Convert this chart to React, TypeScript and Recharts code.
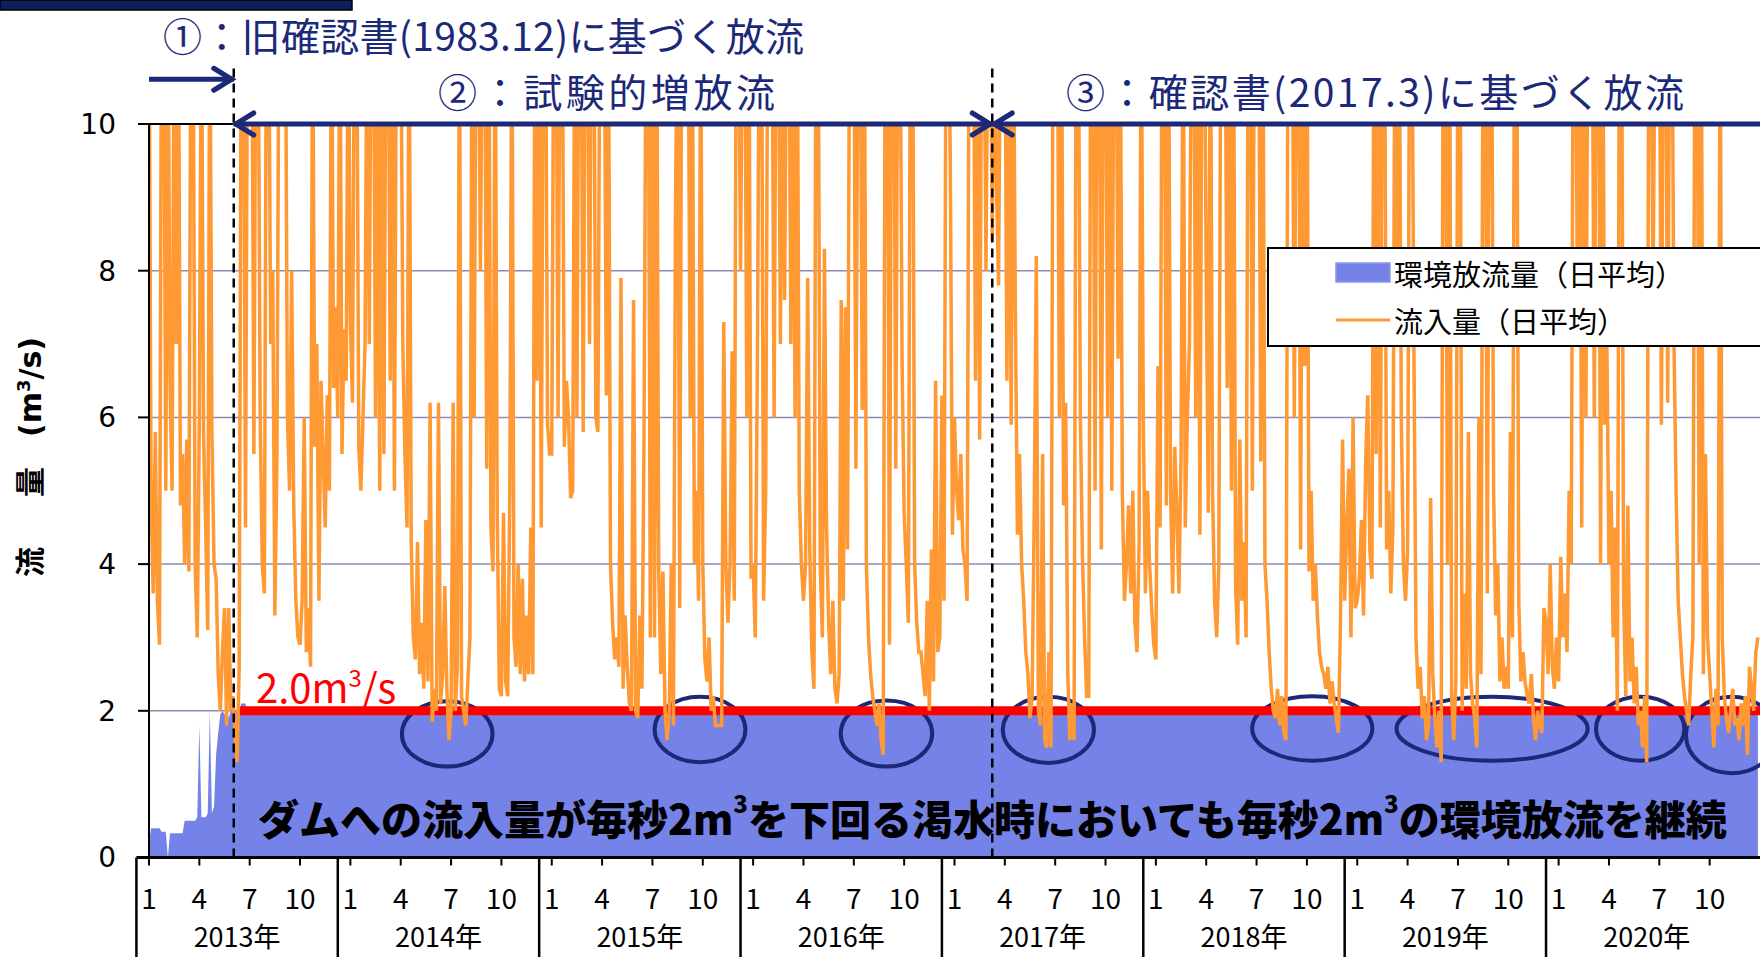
import React from 'react';
import {
  ComposedChart,
  Line,
  Area,
  XAxis,
  YAxis,
  CartesianGrid,
  ReferenceLine,
  ReferenceArea,
} from 'recharts';

// ---------- data (8 readings per month, values above 10 run off the top) ----------
const inflow2013 = [
  12, 4.9, 3.6, 5.8, 3.5, 2.9, 12, 12,
  5.0, 12, 6.5, 5.0, 12, 7.0, 12, 4.8,
  5.5, 4.0, 5.7, 3.9, 12, 12, 4.0, 3.0,
  6.0, 12, 5.8, 4.5, 3.1, 12, 5.8, 4.0,
  3.8, 2.5, 2.0, 2.8, 3.4, 1.8, 3.4, 2.0,
  2.2, 1.7, 1.3, 2.6, 12, 12, 4.5, 12,
  12, 12, 5.5, 12, 12, 6.0, 4.0, 3.6,
  12, 12, 7.0, 8.0, 3.3, 5.5, 12, 12,
  12, 12, 6.0, 5.0, 8.0, 4.8, 3.5, 3.0,
  2.9, 3.5, 6.0, 2.8, 3.4, 2.6, 12, 5.6,
  7.0, 3.5, 6.5, 5.5, 4.5, 6.3, 5.0, 12,
  6.4, 7.5, 6.0, 12, 5.5, 7.2, 6.5, 12,
];
const inflow2014 = [
  7.3, 6.2, 12, 12, 5.6, 5.0, 6.0, 7.0,
  12, 7.0, 12, 12, 6.0, 12, 5.0, 12,
  5.5, 12, 12, 6.5, 12, 5.0, 12, 12,
  12, 7.0, 5.5, 4.5, 12, 4.3, 3.0, 2.7,
  4.3, 2.5, 3.2, 2.3, 4.6, 2.4, 6.2, 1.85,
  2.3, 2.0, 6.2, 2.1, 2.5, 3.7, 2.3, 1.6,
  2.0, 6.2, 2.0, 2.6, 12, 2.2, 2.0, 1.8,
  2.4, 3.0, 12, 6.0, 12, 12, 8.0, 12,
  12, 5.3, 12, 4.5, 3.9, 12, 4.7, 2.3,
  2.2, 4.7, 2.4, 2.2, 5.0, 12, 3.0, 2.6,
  4.0, 2.5, 3.8, 2.4, 3.3, 2.5, 4.5, 2.5,
  12, 6.5, 12, 4.5, 12, 12, 5.9, 5.5,
];
const inflow2015 = [
  5.5, 12, 12, 6.0, 12, 12, 5.6, 6.5,
  6.0, 4.9, 5.0, 12, 6.0, 12, 12, 5.8,
  12, 12, 7.0, 12, 12, 6.0, 5.8, 12,
  12, 12, 6.3, 12, 4.0, 3.2, 2.7, 3.0,
  2.6, 7.9, 2.3, 3.3, 2.6, 2.1, 2.0, 7.6,
  2.0, 1.9, 3.3, 2.3, 5.8, 12, 12, 3.0,
  12, 3.0, 12, 3.9, 2.5, 3.9, 2.0, 1.6,
  2.0, 4.0, 1.8, 8.9, 12, 3.4, 12, 12,
  12, 12, 6.0, 12, 4.0, 5.0, 3.5, 12,
  4.0, 2.7, 2.4, 3.0, 2.0, 2.2, 1.8, 1.8,
  1.8, 1.8, 7.3, 4.0, 3.2, 4.0, 6.9, 3.5,
  12, 12, 8.0, 12, 12, 6.0, 12, 3.8,
];
const inflow2016 = [
  4.0, 3.0, 6.6, 12, 12, 3.5, 5.0, 12,
  12, 12, 6.0, 12, 12, 7.0, 12, 7.6,
  12, 12, 7.0, 12, 6.0, 12, 5.0, 4.0,
  3.5, 4.0, 7.9, 4.2, 2.8, 2.3, 12, 12,
  4.0, 3.0, 8.3, 4.5, 3.2, 2.5, 3.5, 2.3,
  2.1, 2.5, 7.6, 3.5, 7.5, 4.2, 12, 12,
  12, 5.3, 12, 12, 6.1, 12, 4.0, 3.0,
  2.5, 2.2, 2.0, 1.8, 2.1, 1.6, 1.4, 12,
  12, 2.9, 12, 12, 5.3, 12, 12, 6.8,
  4.7, 4.0, 3.2, 12, 12, 4.0, 3.2, 2.8,
  2.8, 2.5, 2.2, 3.5, 2.0, 4.2, 2.4, 6.5,
  2.8, 3.0, 6.3, 3.5, 12, 12, 9.5, 4.4,
];
const inflow2017 = [
  6.0, 5.0, 4.6, 5.5, 4.2, 4.0, 3.5, 12,
  12, 12, 6.5, 12, 5.7, 12, 12, 8.0,
  12, 12, 8.4, 12, 9.2, 7.8, 12, 12,
  12, 6.5, 12, 5.9, 12, 7.5, 4.4, 5.5,
  4.0, 3.5, 2.8, 2.5, 1.9, 2.2, 4.7, 8.2,
  2.0, 1.8, 5.5, 1.6, 1.5, 2.8, 1.5, 12,
  12, 12, 6.0, 12, 4.8, 6.2, 2.5, 1.6,
  2.1, 1.6, 12, 12, 6.0, 4.1, 3.0, 2.2,
  2.2, 12, 12, 5.0, 12, 12, 4.2, 12,
  12, 6.0, 12, 5.0, 12, 12, 6.8, 12,
  5.0, 3.5, 4.0, 4.8, 3.6, 5.0, 3.2, 2.8,
  4.3, 12, 6.0, 3.6, 5.0, 4.0, 3.4, 2.9,
];
const inflow2018 = [
  2.7, 6.7, 4.5, 12, 12, 4.8, 12, 5.0,
  3.6, 5.6, 4.7, 3.6, 5.5, 12, 4.5, 6.0,
  7.0, 12, 12, 6.0, 12, 4.4, 12, 12,
  8.0, 4.7, 12, 5.0, 3.5, 3.0, 4.0, 12,
  12, 12, 6.4, 12, 5.0, 12, 3.7, 2.9,
  5.7, 3.5, 4.3, 3.0, 12, 12, 5.0, 12,
  12, 12, 5.4, 12, 4.0, 3.5, 2.8, 2.3,
  2.0, 1.9, 2.3, 1.8, 2.2, 1.7, 1.6, 12,
  12, 12, 6.0, 12, 12, 4.2, 12, 6.7,
  12, 3.9, 5.0, 3.5, 4.0, 3.3, 2.8, 2.6,
  2.5, 2.3, 2.6, 2.1, 2.4, 2.1, 1.9, 1.7,
  3.2, 5.7, 3.5, 4.5, 5.3, 3.0, 6.0, 3.4,
];
const inflow2019 = [
  3.5, 3.8, 4.6, 3.3, 5.4, 6.3, 4.2, 3.8,
  12, 5.5, 12, 4.5, 12, 12, 4.2, 5.0,
  3.6, 4.5, 12, 8.0, 12, 6.0, 4.0, 3.5,
  4.2, 12, 12, 7.0, 3.0, 2.3, 2.6, 1.9,
  2.2, 1.6, 1.8, 4.9, 2.5, 1.9, 1.5, 2.0,
  1.3, 12, 12, 4.0, 12, 2.2, 1.6, 2.4,
  12, 12, 2.0, 3.6, 2.3, 5.8, 2.5, 2.1,
  1.9, 1.5, 6.0, 2.5, 12, 12, 3.6, 12,
  12, 5.0, 3.3, 4.0, 2.4, 3.0, 2.3, 2.6,
  2.3, 5.8, 3.0, 12, 12, 3.5, 2.4, 2.8,
  2.4, 2.2, 2.1, 2.5, 1.9, 1.6, 2.0, 1.8,
  1.7, 3.4, 3.2, 2.5, 4.0, 2.6, 2.3, 3.0,
];
const inflow2020 = [
  2.4, 4.1, 3.0, 3.6, 2.8, 5.0, 4.0, 12,
  12, 7.4, 12, 4.5, 12, 6.0, 12, 12,
  12, 6.0, 12, 12, 4.0, 12, 5.9, 7.0,
  4.0, 5.0, 3.0, 4.5, 2.0, 12, 12, 3.5,
  2.2, 4.8, 2.4, 3.0, 2.1, 2.6, 1.8, 2.0,
  1.5, 2.2, 1.3, 12, 12, 7.5, 12, 12,
  12, 5.9, 12, 12, 6.2, 12, 12, 7.0,
  5.0, 3.5, 3.0, 2.5, 2.2, 2.0, 1.8, 2.5,
  3.0, 12, 12, 4.0, 12, 2.5, 5.5, 3.0,
  2.5, 2.0, 1.5, 2.3, 1.8, 12, 3.0, 2.2,
  1.9, 1.7, 2.0, 2.3, 1.8, 1.9, 1.6, 2.1,
  1.8, 2.2, 1.4, 2.6, 2.3, 2.0, 2.8, 3.0,
];
// environmental release, first half of 2013 (8 readings per month), then steady level
const envEarly2013 = [
  0.2, 0.4, 0.4, 0.4, 0.4, 0.4, 0.35, 0.35,
  0.35, 0.0, 0.33, 0.33, 0.33, 0.33, 0.33, 0.33,
  0.33, 0.5, 0.5, 0.5, 0.5, 0.5, 0.5, 0.55,
  1.8, 0.55, 0.55, 0.55, 0.6, 2.0, 0.6, 0.7,
  1.4, 1.7, 1.95, 2.0, 1.95, 2.0, 1.9, 2.0,
  2.0, 2.0, 2.0, 2.0, 2.1, 2.1, 2.1, 1.95,
];
const envLevel = 1.95;
const pointsPerMonth = 8;

const years = [2013, 2014, 2015, 2016, 2017, 2018, 2019, 2020];
const monthTicks = [0, 3, 6, 9, 12, 15, 18, 21, 24, 27, 30, 33, 36, 39, 42, 45, 48, 51, 54, 57, 60, 63, 66, 69, 72, 75, 78, 81, 84, 87, 90, 93];
const yTicks = [0, 2, 4, 6, 8, 10];
const limitValue = 2;
const limitStart = 5.3; // months from Jan 2013
const boundary1 = 5.05; // 2013.6
const boundary2 = 50.25; // 2017.3

// circled dry periods (month range, value range)
const ellipseX1 = [15.07, 30.13, 41.22, 50.88, 65.74, 74.34, 86.23, 91.59];
const ellipseX2 = [20.47, 35.54, 46.67, 56.31, 72.9, 85.73, 91.49, 97.02];
const ellipseYTop = [2.13, 2.19, 2.14, 2.19, 2.2, 2.19, 2.19, 2.19];
const ellipseYBottom = [1.24, 1.3, 1.24, 1.29, 1.32, 1.32, 1.32, 1.15];

const inflowAll = [inflow2013, inflow2014, inflow2015, inflow2016, inflow2017, inflow2018, inflow2019, inflow2020].flat();
const data = inflowAll.map((v, i) => ({
  t: i / pointsPerMonth,
  inflow: v,
  env: i < envEarly2013.length ? envEarly2013[i] : envLevel,
}));

// ---------- styling ----------
const NAVY = '#1C2878';
const ORANGE = '#FF9933';
const BLUE = '#7583E8';
const JP = "'Noto Sans CJK JP', 'Noto Sans', sans-serif";

const MonthTick = (props: any) => {
  const { x, y, payload } = props;
  const label = (Math.round(payload.value) % 12) + 1;
  return (
    <text x={x} y={y + 31} textAnchor="middle" dominantBaseline="central" fontSize={28} fontFamily={JP} fill="#000">
      {label}
    </text>
  );
};

const yearShape = (label: string) => (p: any) => (
  <g>
    <line x1={p.x} y1={p.y} x2={p.x} y2={p.y + p.height} stroke="#000" strokeWidth={2.5} />
    <line x1={p.x} y1={p.y} x2={p.x + p.width} y2={p.y} stroke="#000" strokeWidth={3} />
    <text x={p.x + p.width / 2} y={p.y + 78} textAnchor="middle" dominantBaseline="central" fontSize={27} fontFamily={JP} fill="#000">
      {label}
    </text>
  </g>
);

const ellipseShape = (p: any) => (
  <ellipse cx={p.x + p.width / 2} cy={p.y + p.height / 2} rx={p.width / 2} ry={p.height / 2} fill="none" stroke={NAVY} strokeWidth={4} />
);

const arrowShape = (start: boolean, end: boolean) => (p: any) => {
  const { x1, y1, x2, y2 } = p;
  const d = 20;
  const h = 11;
  return (
    <g>
      <line x1={x1} y1={y1} x2={x2} y2={y2} stroke={NAVY} strokeWidth={5} />
      {start && (
        <polyline points={`${x1 + d},${y1 - h} ${x1 + 2},${y1} ${x1 + d},${y1 + h}`} fill="none" stroke={NAVY} strokeWidth={5} strokeLinecap="round" />
      )}
      {end && (
        <polyline points={`${x2 - d},${y2 - h} ${x2 - 2},${y2} ${x2 - d},${y2 + h}`} fill="none" stroke={NAVY} strokeWidth={5} strokeLinecap="round" />
      )}
    </g>
  );
};

export default function App() {
  return (
    <div style={{ position: 'absolute', left: 0, top: 0, width: 1760, height: 957, background: '#fff', overflow: 'hidden' }}>
      <ComposedChart width={1760} height={957} data={data} margin={{ top: 124, right: 0, bottom: 0, left: 0 }}>
        <CartesianGrid vertical={false} stroke="#8C8CB4" strokeWidth={1.5} />
        <XAxis
          dataKey="t"
          type="number"
          domain={[0, 96]}
          allowDataOverflow
          ticks={monthTicks}
          interval={0}
          height={99.5}
          tickSize={8}
          tickMargin={0}
          tick={<MonthTick />}
          tickLine={{ stroke: '#000', strokeWidth: 2 }}
          axisLine={{ stroke: '#000', strokeWidth: 3 }}
        />
        <YAxis
          type="number"
          domain={[0, 10]}
          allowDataOverflow
          ticks={yTicks}
          interval={0}
          width={149}
          tickSize={11}
          tickMargin={22}
          tick={{ fontSize: 28, fill: '#000', fontFamily: "'DejaVu Sans', sans-serif" }}
          tickLine={{ stroke: '#000', strokeWidth: 2 }}
          axisLine={{ stroke: '#000', strokeWidth: 2 }}
        />
        <Area dataKey="env" type="linear" fill={BLUE} fillOpacity={1} stroke="none" isAnimationActive={false} />
        <ReferenceLine segment={[{ x: limitStart, y: limitValue }, { x: 96, y: limitValue }]} stroke="#FF0000" strokeWidth={9} />
        <Line dataKey="inflow" type="linear" stroke={ORANGE} strokeWidth={3.5} dot={false} activeDot={false} isAnimationActive={false} />
        <ReferenceLine segment={[{ x: 0, y: 10 }, { x: boundary1, y: 10 }]} stroke="#000" strokeWidth={2} ifOverflow="visible" />
        <ReferenceLine segment={[{ x: boundary1, y: 0 }, { x: boundary1, y: 10.79 }]} stroke="#000" strokeWidth={2.5} strokeDasharray="9 6" ifOverflow="visible" />
        <ReferenceLine segment={[{ x: boundary2, y: 0 }, { x: boundary2, y: 10.79 }]} stroke="#000" strokeWidth={2.5} strokeDasharray="9 6" ifOverflow="visible" />
        <ReferenceLine segment={[{ x: 0, y: 10.61 }, { x: boundary1, y: 10.61 }]} ifOverflow="visible" shape={arrowShape(false, true)} />
        <ReferenceLine segment={[{ x: boundary1, y: 10 }, { x: boundary2, y: 10 }]} ifOverflow="visible" shape={arrowShape(true, true)} />
        <ReferenceLine segment={[{ x: boundary2, y: 10 }, { x: 97, y: 10 }]} ifOverflow="visible" shape={arrowShape(true, false)} />
        {ellipseX1.map((x1, i) => (
          <ReferenceArea key={`e${i}`} x1={x1} x2={ellipseX2[i]} y1={ellipseYBottom[i]} y2={ellipseYTop[i]} ifOverflow="visible" shape={ellipseShape} />
        ))}
        {years.map((yr, i) => (
          <ReferenceArea key={`y${yr}`} x1={i * 12 - 0.75} x2={i * 12 + 11.25} y1={0} y2={-1.36} ifOverflow="visible" shape={yearShape(`${yr}年`)} />
        ))}
      </ComposedChart>

      <svg width={1760} height={957} style={{ position: 'absolute', left: 0, top: 0, pointerEvents: 'none' }}>
        <rect x={0} y={0} width={352} height={10} fill="#0E1E5B" stroke="#000" strokeWidth={1.5} />
        <text x={163} y={34} dominantBaseline="central" fontSize={39} fontFamily={JP} fill={NAVY} textLength={641}>
          ①：旧確認書(1983.12)に基づく放流
        </text>
        <text x={438} y={90} dominantBaseline="central" fontSize={39} fontFamily={JP} fill={NAVY} textLength={337}>
          ②：試験的増放流
        </text>
        <text x={1066} y={90} dominantBaseline="central" fontSize={39} fontFamily={JP} fill={NAVY} textLength={618}>
          ③：確認書(2017.3)に基づく放流
        </text>

        <text x={256} y={703} fontSize={40} fontFamily={JP} fill="#FF0000">
          2.0m<tspan dy={-16} fontSize={24}>3</tspan>
          <tspan dy={16}>/s</tspan>
        </text>

        <text x={258} y={817} dominantBaseline="central" fontSize={41} fontWeight={900} fontFamily={JP} fill="#000">
          ダムへの流入量が毎秒2m<tspan dy={-15} fontSize={24}>3</tspan>
          <tspan dy={15}>を下回る渇水時においても毎秒2m</tspan>
          <tspan dy={-15} fontSize={24}>3</tspan>
          <tspan dy={15}>の環境放流を継続</tspan>
        </text>

        <text transform="translate(41,577) rotate(-90)" fontSize={30} fontWeight="bold" fontFamily={"'DejaVu Sans', 'Noto Sans CJK JP', sans-serif"} fill="#000">
          <tspan>流</tspan>
          <tspan dx={50}>量</tspan>
          <tspan dx={30}>(m</tspan>
          <tspan dy={-11} fontSize={18}>3</tspan>
          <tspan dy={11}>/s)</tspan>
        </text>

        <rect x={1268} y={248} width={500} height={98} fill="#fff" stroke="#000" strokeWidth={2} />
        <rect x={1336} y={263} width={54} height={19} fill={BLUE} stroke="#8C97EE" strokeWidth={1.5} />
        <text x={1394} y={273} dominantBaseline="central" fontSize={29} fontFamily={JP} fill="#000">
          環境放流量（日平均）
        </text>
        <line x1={1336} y1={320} x2={1390} y2={320} stroke={ORANGE} strokeWidth={3} />
        <text x={1394} y={320} dominantBaseline="central" fontSize={29} fontFamily={JP} fill="#000">
          流入量（日平均）
        </text>
      </svg>
    </div>
  );
}
